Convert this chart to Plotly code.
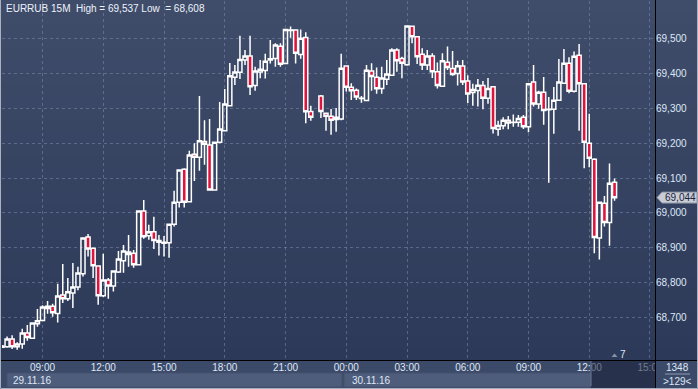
import plotly.graph_objects as go
import pandas as pd

title_text = "EURRUB 15M  High = 69,537 Low  = 68,608"

# 15-minute bars, 29.11.16 07:00 .. 30.11.16 13:15 (bar at 22:30 missing)
times = pd.date_range("2016-11-29 07:00", "2016-11-30 13:15", freq="15min")
times = times.drop(pd.Timestamp("2016-11-29 22:30"))

opens = [68.615, 68.617, 68.639, 68.617, 68.625, 68.656, 68.641, 68.683, 68.692, 68.726,
         68.733, 68.712, 68.765, 68.754, 68.771, 68.788, 68.826, 68.931, 68.899, 68.848,
         68.763, 68.808, 68.791, 68.831, 68.863, 68.888, 68.885, 68.852, 69.006, 68.935,
         68.946, 68.921, 68.913, 68.915, 68.968, 69.031, 69.125, 69.032, 69.168, 69.160,
         69.205, 69.195, 69.066, 69.203, 69.236, 69.307, 69.389, 69.403, 69.438, 69.450,
         69.365, 69.404, 69.408, 69.438, 69.443, 69.478, 69.428, 69.523, 69.524, 69.454,
         69.503, 69.291, 69.335, 69.286, 69.277, 69.268, 69.269, 69.421, 69.360, 69.352,
         69.328, 69.322, 69.407, 69.389, 69.357, 69.383, 69.395, 69.467, 69.443, 69.425,
         69.535, 69.505, 69.455, 69.424, 69.450, 69.405, 69.363, 69.432, 69.414, 69.400,
         69.421, 69.378, 69.345, 69.351, 69.365, 69.329, 69.362, 69.240, 69.250, 69.266,
         69.259, 69.260, 69.274, 69.247, 69.375, 69.312, 69.346, 69.297, 69.297, 69.323,
         69.372, 69.429, 69.349, 69.452, 69.370, 69.200, 69.154, 68.928, 69.028, 68.973,
         69.088]
highs = [68.622, 68.646, 68.650, 68.630, 68.668, 68.679, 68.686, 68.725, 68.736, 68.748,
         68.740, 68.797, 68.854, 68.814, 68.857, 68.846, 68.929, 68.940, 68.900, 68.849,
         68.883, 68.814, 68.835, 68.891, 68.908, 68.937, 68.894, 69.007, 69.037, 68.966,
         68.989, 68.937, 68.934, 68.970, 69.064, 69.124, 69.128, 69.178, 69.200, 69.335,
         69.266, 69.269, 69.204, 69.318, 69.355, 69.430, 69.424, 69.508, 69.467, 69.508,
         69.419, 69.438, 69.456, 69.496, 69.486, 69.486, 69.527, 69.534, 69.526, 69.526,
         69.518, 69.307, 69.338, 69.287, 69.298, 69.301, 69.456, 69.422, 69.372, 69.357,
         69.335, 69.424, 69.429, 69.417, 69.419, 69.438, 69.472, 69.472, 69.448, 69.537,
         69.537, 69.507, 69.472, 69.467, 69.458, 69.431, 69.458, 69.477, 69.464, 69.436,
         69.438, 69.395, 69.370, 69.384, 69.378, 69.387, 69.364, 69.264, 69.274, 69.278,
         69.282, 69.281, 69.281, 69.371, 69.424, 69.350, 69.390, 69.332, 69.361, 69.441,
         69.470, 69.446, 69.463, 69.484, 69.371, 69.284, 69.157, 69.032, 69.049, 69.142,
         69.099]
lows = [68.613, 68.614, 68.610, 68.608, 68.611, 68.634, 68.640, 68.674, 68.690, 68.711,
        68.703, 68.686, 68.742, 68.748, 68.728, 68.779, 68.818, 68.875, 68.814, 68.737,
        68.759, 68.754, 68.775, 68.828, 68.829, 68.846, 68.843, 68.851, 68.926, 68.923,
        68.897, 68.878, 68.875, 68.872, 68.961, 69.016, 69.016, 69.031, 69.092, 69.121,
        69.138, 69.064, 69.064, 69.200, 69.235, 69.306, 69.367, 69.384, 69.424, 69.338,
        69.350, 69.386, 69.385, 69.428, 69.419, 69.419, 69.426, 69.502, 69.428, 69.442,
        69.257, 69.264, 69.272, 69.236, 69.224, 69.233, 69.266, 69.348, 69.324, 69.324,
        69.316, 69.320, 69.350, 69.342, 69.342, 69.367, 69.393, 69.405, 69.386, 69.422,
        69.486, 69.427, 69.410, 69.410, 69.387, 69.357, 69.362, 69.410, 69.393, 69.365,
        69.367, 69.315, 69.307, 69.305, 69.297, 69.313, 69.228, 69.221, 69.240, 69.240,
        69.247, 69.247, 69.241, 69.231, 69.305, 69.299, 69.253, 69.087, 69.227, 69.321,
        69.370, 69.343, 69.345, 69.236, 69.128, 69.131, 68.885, 68.867, 68.961, 68.906,
        69.035]
closes = [68.619, 68.639, 68.617, 68.625, 68.656, 68.643, 68.685, 68.691, 68.731, 68.733,
          68.714, 68.762, 68.754, 68.774, 68.788, 68.828, 68.928, 68.897, 68.849, 68.763,
          68.808, 68.791, 68.834, 68.868, 68.891, 68.881, 68.852, 69.006, 68.932, 68.946,
          68.921, 68.916, 68.916, 68.968, 69.031, 69.123, 69.031, 69.166, 69.160, 69.207,
          69.197, 69.066, 69.203, 69.241, 69.312, 69.393, 69.404, 69.440, 69.450, 69.362,
          69.407, 69.412, 69.435, 69.442, 69.481, 69.426, 69.526, 69.524, 69.458, 69.501,
          69.290, 69.274, 69.291, 69.277, 69.266, 69.274, 69.415, 69.360, 69.350, 69.332,
          69.329, 69.409, 69.391, 69.356, 69.387, 69.398, 69.467, 69.436, 69.429, 69.536,
          69.505, 69.448, 69.424, 69.450, 69.405, 69.365, 69.436, 69.417, 69.397, 69.422,
          69.375, 69.341, 69.354, 69.366, 69.329, 69.357, 69.242, 69.251, 69.266, 69.258,
          69.260, 69.271, 69.247, 69.370, 69.312, 69.346, 69.294, 69.296, 69.323, 69.375,
          69.429, 69.349, 69.449, 69.370, 69.203, 69.157, 68.930, 69.031, 68.973, 69.085,
          69.044]

y_tick_vals = [68.7, 68.8, 68.9, 69.0, 69.1, 69.2, 69.3, 69.4, 69.5]
y_tick_text = ["68,700", "68,800", "68,900", "69,000", "69,100", "69,200", "69,300", "69,400", "69,500"]
x_tick_vals = ["2016-11-29 09:00", "2016-11-29 12:00", "2016-11-29 15:00", "2016-11-29 18:00",
               "2016-11-29 21:00", "2016-11-30 00:00", "2016-11-30 03:00", "2016-11-30 06:00",
               "2016-11-30 09:00", "2016-11-30 12:00", "2016-11-30 15:00"]
x_tick_text = ["09:00", "12:00", "15:00", "18:00", "21:00", "00:00", "03:00", "06:00",
               "09:00", "12:00", "15:00"]
date_labels = ["29.11.16", "30.11.16"]
last_price_text = "69,044"
footer_top = "1348"
footer_bottom = ">129<"
marker_count = "7"

# ---- geometry (pixels) ----
FW, FH = 698, 389
L, R, T, B = 2, 655, 1, 360
W, H = R - L, B - T


def xp(px):
    return (px - L) / W


def yp(py):
    return (B - py) / H


FONT = "Liberation Sans"
TXT = "#dfe7f6"

fig = go.Figure()
fig.add_trace(go.Candlestick(
    x=times, open=opens, high=highs, low=lows, close=closes,
    increasing=dict(line=dict(color="#ffffff", width=1.5), fillcolor="rgba(0,0,0,0)"),
    decreasing=dict(line=dict(color="#ffffff", width=1.5), fillcolor="#e0133c"),
    whiskerwidth=0, hoverinfo="skip", showlegend=False,
))

shapes = []
# vertical gradient background (plot + right scale panel)
top_c = (63, 77, 107)
bot_c = (44, 57, 88)
N = 30
for i in range(N):
    f = (i + 0.5) / N
    c = tuple(round(top_c[k] + (bot_c[k] - top_c[k]) * f) for k in range(3))
    py0 = B * i / N
    py1 = B * (i + 1) / N + 0.6
    shapes.append(dict(type="rect", xref="paper", yref="paper", layer="below",
                       x0=xp(0), x1=xp(FW), y0=yp(py1), y1=yp(py0),
                       fillcolor="rgb(%d,%d,%d)" % c, line=dict(width=0)))
# date bars
for (a, b) in [(7, 342), (344, 591)]:
    shapes.append(dict(type="rect", xref="paper", yref="paper", layer="below",
                       x0=xp(a), x1=xp(b), y0=yp(387), y1=yp(373),
                       fillcolor="#4e5d7c", line=dict(color="#44526f", width=1)))
# future zone in time scale
shapes.append(dict(type="rect", xref="paper", yref="paper", layer="above",
                   x0=xp(591), x1=xp(655), y0=yp(388), y1=yp(361),
                   fillcolor="rgba(22,30,52,0.55)", line=dict(width=0)))
shapes.append(dict(type="line", xref="paper", yref="paper", layer="above",
                   x0=xp(591), x1=xp(591), y0=yp(386), y1=yp(361),
                   line=dict(color="#6d7892", width=1)))
# corner box
shapes.append(dict(type="rect", xref="paper", yref="paper", layer="above",
                   x0=xp(655.5), x1=xp(FW), y0=yp(FH), y1=yp(361),
                   fillcolor="#3c4a69", line=dict(width=0)))
shapes.append(dict(type="line", xref="paper", yref="paper", layer="above",
                   x0=xp(665), x1=xp(690), y0=yp(374), y1=yp(374),
                   line=dict(color="#8e9ab0", width=1)))
# axis separator lines
shapes.append(dict(type="line", xref="paper", yref="paper", layer="above",
                   x0=xp(0), x1=xp(FW), y0=yp(360.5), y1=yp(360.5),
                   line=dict(color="#000000", width=1)))
shapes.append(dict(type="line", xref="paper", yref="paper", layer="above",
                   x0=xp(655.5), x1=xp(655.5), y0=yp(FH), y1=yp(0),
                   line=dict(color="#000000", width=1)))
# outer frame
shapes.append(dict(type="path", xref="paper", yref="paper", layer="above",
                   path="M %f %f L %f %f L %f %f L %f %f" % (
                       xp(0.5), yp(0), xp(0.5), yp(388.5), xp(697.5), yp(388.5), xp(697.5), yp(0)),
                   line=dict(color="#a9b1c1", width=1)))
# last price tag
lp_y = 197.6
shapes.append(dict(type="path", xref="paper", yref="paper", layer="above",
                   path="M %f %f L %f %f L %f %f L %f %f L %f %f Z" % (
                       xp(657), yp(lp_y), xp(662), yp(lp_y - 5.5), xp(697), yp(lp_y - 5.5),
                       xp(697), yp(lp_y + 5.5), xp(662), yp(lp_y + 5.5)),
                   fillcolor="#c8ccd5", line=dict(color="#8a92a3", width=1)))
# small marker triangle
shapes.append(dict(type="path", xref="paper", yref="paper", layer="above",
                   path="M %f %f L %f %f L %f %f Z" % (
                       xp(611.5), yp(357), xp(614.5), yp(353.5), xp(617.5), yp(357)),
                   fillcolor="#8592aa", line=dict(width=0)))

ann = []
ann.append(dict(text=title_text, xref="paper", yref="paper", x=xp(4), y=yp(8.5),
                xanchor="left", yanchor="middle", showarrow=False,
                font=dict(family=FONT, size=10, color="#eef2fa")))
for lbl, px in zip(date_labels, [11, 350]):
    ann.append(dict(text=lbl, xref="paper", yref="paper", x=xp(px), y=yp(380),
                    xanchor="left", yanchor="middle", showarrow=False,
                    font=dict(family=FONT, size=10, color=TXT)))
ann.append(dict(text=last_price_text, xref="paper", yref="paper", x=xp(680), y=yp(lp_y),
                xanchor="center", yanchor="middle", showarrow=False,
                font=dict(family=FONT, size=10, color="#1a2440")))
ann.append(dict(text=footer_top, xref="paper", yref="paper", x=xp(677), y=yp(367.5),
                xanchor="center", yanchor="middle", showarrow=False,
                font=dict(family=FONT, size=10, color=TXT)))
ann.append(dict(text=footer_bottom, xref="paper", yref="paper", x=xp(677), y=yp(381),
                xanchor="center", yanchor="middle", showarrow=False,
                font=dict(family=FONT, size=10, color=TXT)))
ann.append(dict(text=marker_count, xref="paper", yref="paper", x=xp(623), y=yp(354.5),
                xanchor="center", yanchor="middle", showarrow=False,
                font=dict(family=FONT, size=10, color=TXT)))

grid_col = "rgba(125,140,172,0.55)"
fig.update_layout(
    width=FW, height=FH,
    margin=dict(l=L, r=FW - R, t=T, b=FH - B, pad=0),
    paper_bgcolor="#3c4a69",
    plot_bgcolor="rgba(0,0,0,0)",
    shapes=shapes, annotations=ann,
    boxgap=0.2, boxgroupgap=0.0,
    showlegend=False,
    xaxis=dict(
        type="date", range=["2016-11-29 07:00", "2016-11-30 15:14:50"],
        rangeslider=dict(visible=False),
        tickmode="array", tickvals=x_tick_vals, ticktext=x_tick_text,
        showgrid=True, gridcolor=grid_col, griddash="3px,3px", gridwidth=1,
        zeroline=False, showline=False, ticks="",
        tickfont=dict(family=FONT, size=10, color=TXT),
    ),
    yaxis=dict(
        side="right", range=[68.5788, 69.6074],
        tickmode="array", tickvals=y_tick_vals, ticktext=y_tick_text,
        showgrid=True, gridcolor=grid_col, griddash="3px,3px", gridwidth=1,
        zeroline=False, showline=False, ticks="",
        tickfont=dict(family=FONT, size=10, color=TXT),
    ),
)

fig.write_html("out.html", config={"displayModeBar": False},
               post_script="document.body.style.margin='0';document.body.style.padding='0';"
                           "document.body.style.overflow='hidden';")
